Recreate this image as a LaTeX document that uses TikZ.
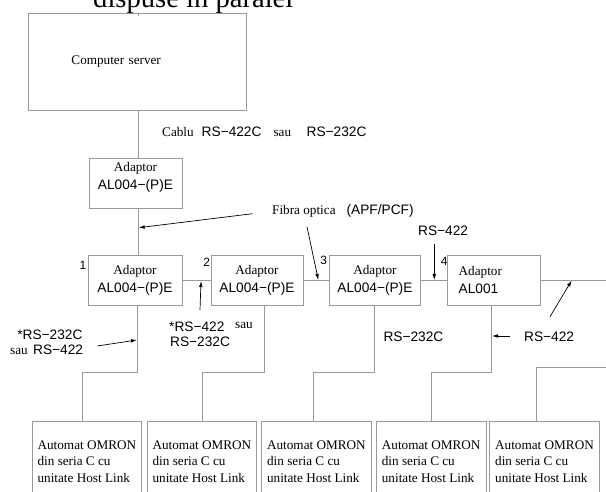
\documentclass[tikz,border=0pt]{standalone}
\usepackage{fontspec}
\setmainfont{Liberation Serif}
\setsansfont{Liberation Sans}
\usetikzlibrary{arrows.meta}
\definecolor{linegray}{gray}{0.6}
\newcommand\serf{\fontsize{13.2}{18.3}\selectfont\rmfamily}
\newcommand\sanf{\fontsize{13.7}{18.3}\selectfont\sffamily}
\newcommand\numf{\fontsize{12}{14}\selectfont\sffamily}
\begin{document}
\begin{tikzpicture}[x=1pt,y=-1pt,
  conn/.style={draw=linegray,line width=0.9pt},
  boxs/.style={draw=linegray,line width=0.9pt,inner sep=0pt},
  adbox/.style={boxs,minimum height=50pt,align=center,font=\serf},
  plcbox/.style={boxs,anchor=north west,minimum width=109.5pt,inner ysep=19.3pt,align=left,font=\fontsize{13.2}{16.4}\selectfont\rmfamily,text depth=30pt},
  arr/.style={draw=black,line width=0.7pt,-{Latex[length=6pt,width=3.6pt]}},
  lbl/.style={inner sep=0pt,anchor=base west},
  lble/.style={inner sep=0pt,anchor=base east},
  num/.style={inner sep=0pt,font=\numf}]
\useasboundingbox (0,0) rectangle (606,492);
\clip (0,0) rectangle (606,492);

% title (cropped at the top)
\node[lbl] (tit) at (93,7.5) {\fontsize{28.6}{30}\selectfont dispuse în paralel};

% computer server
\node[boxs,anchor=north west,minimum width=218pt,minimum height=97.3pt,text width=132pt,inner xsep=43pt,align=left,font=\serf] (cs) at (28,12.7) {Computer server};

% adaptors
\node[adbox,minimum width=93pt] (ad0) at (135.5,183) {Adaptor\\{\sanf AL004−(P)E\rule[-13.7pt]{0pt}{1pt}}};
\node[adbox,minimum width=94pt] (a1) at (135,280) {Adaptor\\{\sanf AL004−(P)E}};
\node[adbox,minimum width=92pt] (a2) at (257,280) {Adaptor\\{\sanf AL004−(P)E}};
\node[adbox,minimum width=91.7pt] (a3) at (374.9,280) {Adaptor\\{\sanf AL004−(P)E}};
\node[adbox,minimum width=93pt,text width=71pt,inner xsep=11pt,align=left] (a4) at (494.2,280) {Adaptor\\{\sanf AL001}};

% PLC boxes
\node[plcbox] (b1) at (31.7,421) {Automat OMRON\\din seria C cu\\unitate Host Link};
\node[plcbox] (b2) at (146.7,421) {Automat OMRON\\din seria C cu\\unitate Host Link};
\node[plcbox] (b3) at (261.2,421) {Automat OMRON\\din seria C cu\\unitate Host Link};
\node[plcbox] (b4) at (376,421) {Automat OMRON\\din seria C cu\\unitate Host Link};
\node[plcbox] (b5) at (489.3,421) {Automat OMRON\\din seria C cu\\unitate Host Link};

% port numbers
\node[num] (n1) at (83,265) {1};
\node[num] (n2) at (206.7,262) {2};
\node[num] (n3) at (323.7,260.5) {3};
\node[num] (n4) at (444.2,261) {4};

% connectors
\draw[conn] (cs.north -| 138,0) -- ++(0,3);
\draw[conn] (cs.south -| 138,0) -- (ad0.north -| 138,0);
\draw[conn] (ad0.south -| 138,0) -- (a1.north -| 138,0);
\draw[conn] (a1.east) -- (a2.west);
\draw[conn] (a2.east) -- (a3.west);
\draw[conn] (a3.east) -- (a4.west);
\coordinate (rend) at (606,280);
\draw[conn] (a4.east) -- (rend);
\draw[conn] (a1.south -| 137.7,0) -- (137.7,372.3) -| (b1.north -| 82.3,0);
\draw[conn] (a2.south -| 264,0) -- (264,372.3) -| (b2.north -| 202.7,0);
\draw[conn] (a3.south -| 374,0) -- (374,372.3) -| (b3.north -| 313.3,0);
\draw[conn] (a4.south -| 491.7,0) -- (491.7,372.3) -| (b4.north -| 431,0);
\coordinate (rin) at (606,367.3);
\draw[conn] (rin) -| (b5.north -| 536.7,0);

% labels
\node[lbl] (cab) at (162,136.5) {{\serf Cablu}\hspace{8pt}{\sanf RS−422C}\hspace{12pt}{\serf sau}\hspace{15.6pt}{\sanf RS−232C}};
\node[lbl] (fib) at (272,215) {{\serf Fibra optica}\hspace{11pt}{\sanf (APF/PCF)}};
\node[lbl] (rs1) at (418,235.7) {\sanf RS−422};
\node[lble] (rs2a) at (82.7,340) {\sanf *RS−232C};
\node[lbl] (rs2b) at (10,354.3) {{\serf sau}\hspace{5.4pt}{\sanf RS−422}};
\node[lbl] (rs3a) at (169,331.7) {{\sanf *RS−422}\hspace{10.8pt}\raisebox{3pt}{\serf sau}};
\node[lbl] (rs3b) at (170,346) {\sanf RS−232C};
\node[lbl] (rs4) at (383.3,341.7) {\sanf RS−232C};
\node[lbl] (rs5) at (524,341.7) {\sanf RS−422};

% arrows
\coordinate (f1s) at (252.5,213.7); \coordinate (f1e) at (138.7,227.7);
\coordinate (f2s) at (307,226.7);   \coordinate (f2e) at (318.3,280);
\coordinate (r1s) at (434.3,244);   \coordinate (r1e) at (434.3,280);
\coordinate (l1s) at (97.3,346);    \coordinate (l1e) at (137,340);
\coordinate (l2s) at (200,310);     \coordinate (l2e) at (201,281);
\coordinate (r2s) at (510,336);     \coordinate (r2e) at (492,336);
\coordinate (r3s) at (550,316.7);   \coordinate (r3e) at (571.7,280.5);
\draw[arr] (f1s) -- (f1e);
\draw[arr] (f2s) -- (f2e);
\draw[arr] (r1s) -- (r1e);
\draw[arr] (l1s) -- (l1e);
\draw[arr] (l2s) -- (l2e);
\draw[arr] (r2s) -- (r2e);
\draw[arr] (r3s) -- (r3e);
\end{tikzpicture}
\end{document}
